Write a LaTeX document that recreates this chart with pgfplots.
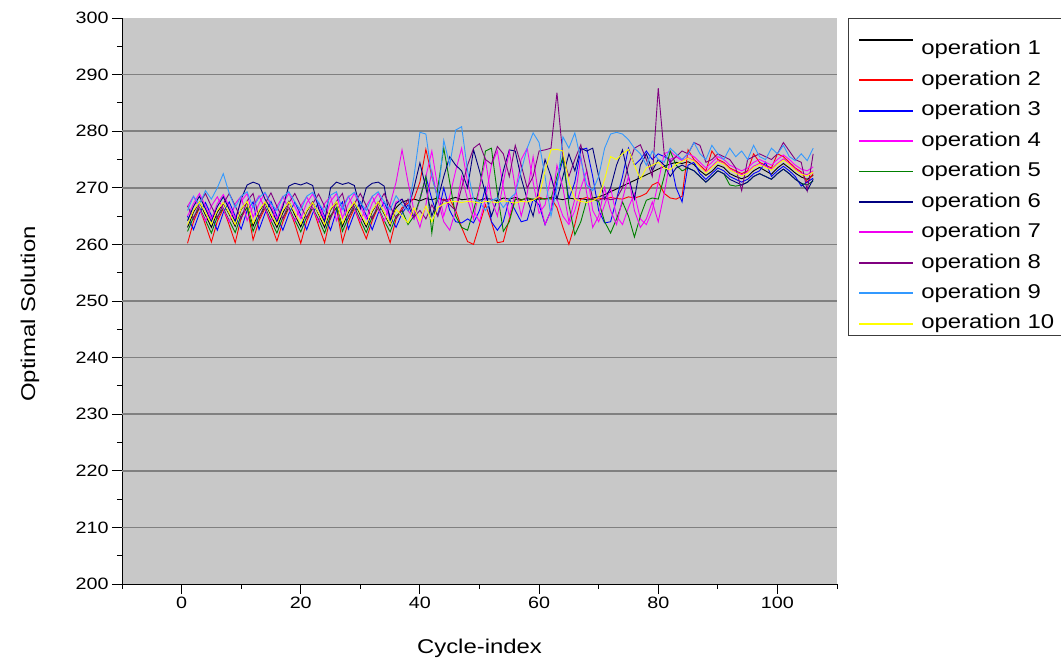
\documentclass[border=0pt]{standalone}
\usepackage{fontspec}
\setmainfont[FakeStretch=1.2]{Liberation Sans}
\usepackage{pgfplots}
\pgfplotsset{compat=1.18}
\definecolor{bg}{RGB}{200,200,200}
\definecolor{gridc}{RGB}{128,128,128}
\definecolor{framec}{RGB}{60,60,60}
\definecolor{c1}{RGB}{0,0,0}
\definecolor{c2}{RGB}{255,0,0}
\definecolor{c3}{RGB}{0,0,255}
\definecolor{c4}{RGB}{255,0,255}
\definecolor{c5}{RGB}{0,128,0}
\definecolor{c6}{RGB}{0,0,128}
\definecolor{c7}{RGB}{240,0,240}
\definecolor{c8}{RGB}{128,0,128}
\definecolor{c9}{RGB}{51,153,255}
\definecolor{c10}{RGB}{255,255,0}
\begin{document}
\begin{tikzpicture}
\begin{axis}[
  at={(122bp,79bp)}, anchor=south west,
  width=715bp, height=566bp, scale only axis,
  xmin=-10, xmax=110, ymin=200, ymax=300,
  axis x line*=bottom, axis y line*=left,
  axis line style={line width=0.9bp, black},
  axis background/.style={fill=bg},
  xtick={0,20,...,100}, minor xtick={-10,10,30,50,70,90,110},
  ytick={200,210,...,300}, minor ytick={205,215,...,295},
  tick align=outside, major tick length=10bp, minor tick length=5bp,
  tick style={black, line width=0.9bp},
  extra y ticks={210,220,...,290}, extra y tick labels={},
  extra y tick style={grid=major, major tick length=0pt},
  grid style={line width=1.5bp, gridc},
  ticklabel style={font=\fontsize{16.5}{20}\selectfont},
  /pgf/number format/assume math mode=true,
  xlabel={Cycle-index}, ylabel={Optimal Solution},
  every axis x label/.style={at={(axis description cs:0.5,0)}, anchor=center, yshift=-64bp, font=\fontsize{20}{24}\selectfont},
  every axis y label/.style={at={(axis description cs:0,0.477)}, anchor=center, rotate=90, yshift=92bp, font=\fontsize{20}{24}\selectfont},
  legend cell align=left,
  legend image code/.code={\draw[#1, line width=1.8bp] (0bp,0bp) -- (54bp,0bp);},
  legend style={at={(1,1)}, anchor=north west, xshift=11bp,
    draw=framec, line width=0.9bp, fill=white,
    font=\fontsize{20}{24}\selectfont,
    inner xsep=10bp, inner ysep=3bp, row sep=12bp, column sep=7bp,
    nodes={inner sep=0pt, text depth=4bp}},
  every axis plot/.append style={line width=0.9bp},
]
\addplot[color=c1] coordinates {(1,263) (2,265.7) (3,267.5) (4,265.2) (5,263) (6,265.7) (7,267.3) (8,265.3) (9,263.2) (10,266.2)
(11,267.5) (12,263.2) (13,265.8) (14,267.4) (15,265.1) (16,263) (17,265.6) (18,267.6) (19,265.2) (20,263.1)
(21,265.8) (22,267.5) (23,265.3) (24,263) (25,266.1) (26,267.5) (27,263.2) (28,265.7) (29,267.4) (30,265.2)
(31,263.1) (32,265.8) (33,267.5) (34,265.4) (35,263.3) (36,266.5) (37,267.5) (38,267.8) (39,268) (40,267.7)
(41,268.1) (42,267.9) (43,268.2) (44,267.8) (45,268) (46,268.3) (47,267.9) (48,268) (49,268.2) (50,267.8)
(51,268.1) (52,268) (53,267.7) (54,268.2) (55,268) (56,268.3) (57,267.9) (58,268.1) (59,267.8) (60,268.2)
(61,268) (62,268.3) (63,268.1) (64,267.9) (65,268.2) (66,268) (67,268.1) (68,267.9) (69,268.2) (70,268.4)
(71,268.8) (72,269.3) (73,269.8) (74,270.3) (75,270.8) (76,271.3) (77,271.8) (78,272.3) (79,272.8) (80,273.3)
(81,273.8) (82,274.2) (83,274.5) (84,274.3) (85,274.6) (86,274.1) (87,273) (88,272.2) (89,272.9) (90,274)
(91,273.6) (92,272.5) (93,272) (94,271.6) (95,272) (96,273) (97,273.6) (98,273) (99,272.4) (100,273.5)
(101,274.3) (102,273.5) (103,272.6) (104,271.9) (105,271.5) (106,272.2)};
\addlegendentry{\rule{0pt}{33.5bp}operation 1}
\addplot[color=c2] coordinates {(1,260.2) (2,264) (3,266.5) (4,263.5) (5,260.4) (6,264.1) (7,266.3) (8,263.4) (9,260.3) (10,264.7)
(11,266.6) (12,260.8) (13,264.2) (14,266.4) (15,263.5) (16,260.6) (17,264) (18,266.5) (19,263.6) (20,260.2)
(21,264.1) (22,266.5) (23,263.3) (24,260.3) (25,264.8) (26,266.5) (27,260.4) (28,264) (29,266.4) (30,263.5)
(31,261) (32,264.2) (33,266.6) (34,263.5) (35,260.3) (36,264.5) (37,266.5) (38,267.3) (39,268) (40,271)
(41,276.8) (42,272) (43,268.2) (44,267.8) (45,268) (46,266) (47,263) (48,260.5) (49,260) (50,263.5)
(51,267) (52,264) (53,260.3) (54,260.5) (55,264.5) (56,268) (57,267.8) (58,268.2) (59,267.9) (60,268.3)
(61,268) (62,268.2) (63,266.5) (64,263) (65,260) (66,263.5) (67,268) (68,268.3) (69,267.9) (70,268.2)
(71,268) (72,268.3) (73,268.1) (74,268) (75,268.4) (76,268.2) (77,268.5) (78,269) (79,270.5) (80,271)
(81,269) (82,268.2) (83,268) (84,268.5) (85,276.7) (86,275) (87,274) (88,273) (89,276.5) (90,275)
(91,274.5) (92,273.5) (93,273) (94,272.5) (95,273) (96,276) (97,274.5) (98,274) (99,273.5) (100,276)
(101,275.5) (102,274.5) (103,273.5) (104,272.8) (105,271) (106,272.5)};
\addlegendentry{operation 2}
\addplot[color=c3] coordinates {(1,265) (2,262.6) (3,265.5) (4,267.4) (5,265.1) (6,262.5) (7,265.6) (8,267.5) (9,265) (10,262.7)
(11,266) (12,267.5) (13,262.6) (14,265.5) (15,267.6) (16,265) (17,262.5) (18,265.4) (19,267.5) (20,265.2)
(21,262.6) (22,265.5) (23,267.4) (24,265) (25,262.5) (26,266) (27,267.5) (28,262.7) (29,265.5) (30,267.5)
(31,265.1) (32,262.6) (33,265.5) (34,267.5) (35,265) (36,263) (37,265.5) (38,267) (39,264.5) (40,268)
(41,272) (42,268) (43,265) (44,270) (45,266) (46,264) (47,263.8) (48,264.5) (49,263.8) (50,266)
(51,270) (52,264) (53,262.5) (54,264) (55,268) (56,266) (57,264) (58,264.3) (59,268) (60,267)
(61,263.5) (62,266) (63,271) (64,275) (65,268) (66,271) (67,276.7) (68,277) (69,272) (70,266)
(71,263.8) (72,264) (73,268) (74,272) (75,277) (76,274) (77,275) (78,276.5) (79,275) (80,276)
(81,275.5) (82,275) (83,270) (84,267.5) (85,274) (86,274.5) (87,272.5) (88,271.5) (89,272.5) (90,273.5)
(91,273) (92,272) (93,271.5) (94,271) (95,271.5) (96,272.5) (97,273) (98,274.5) (99,272) (100,273)
(101,273.8) (102,273) (103,272) (104,270.3) (105,271) (106,271.7)};
\addlegendentry{operation 3}
\addplot[color=c4] coordinates {(1,265) (2,267.2) (3,269) (4,266.8) (5,264.5) (6,267.2) (7,268.8) (8,266.7) (9,264.6) (10,267.6)
(11,269) (12,264.8) (13,267.2) (14,269.1) (15,266.8) (16,264.5) (17,267.2) (18,269) (19,266.7) (20,264.6)
(21,267.3) (22,268.9) (23,266.8) (24,264.5) (25,267.6) (26,269) (27,264.7) (28,267.2) (29,269) (30,266.8)
(31,264.5) (32,267.3) (33,269) (34,266.7) (35,264.6) (36,267.5) (37,268) (38,266) (39,264.5) (40,268)
(41,272) (42,276.5) (43,270) (44,265) (45,268.5) (46,273) (47,277) (48,271) (49,266) (50,264)
(51,268) (52,274) (53,276.5) (54,270) (55,265) (56,269) (57,275) (58,277) (59,271) (60,265.5)
(61,267) (62,272) (63,268) (64,265) (65,263.5) (66,266) (67,270) (68,273) (69,266) (70,264)
(71,267) (72,270) (73,265) (74,263.5) (75,266.5) (76,269) (77,264.5) (78,263.5) (79,266) (80,271)
(81,276) (82,276.5) (83,275.5) (84,275) (85,276) (86,275.5) (87,274.5) (88,273.5) (89,274.5) (90,275.5)
(91,275) (92,274) (93,273.5) (94,273) (95,273.5) (96,274.5) (97,275) (98,274.5) (99,274) (100,275)
(101,275.8) (102,275) (103,274) (104,273.3) (105,273) (106,273.7)};
\addlegendentry{operation 4}
\addplot[color=c5] coordinates {(1,262.3) (2,264.8) (3,266.5) (4,264.3) (5,262) (6,264.9) (7,266.4) (8,264.2) (9,262.1) (10,265.2)
(11,266.5) (12,262.3) (13,264.9) (14,266.6) (15,264.2) (16,262) (17,264.8) (18,266.5) (19,264.3) (20,262.2)
(21,264.9) (22,266.4) (23,264.4) (24,262) (25,265.1) (26,266.5) (27,262.3) (28,264.8) (29,266.6) (30,264.3)
(31,262.1) (32,264.9) (33,266.5) (34,264.2) (35,262.2) (36,265) (37,266) (38,263.5) (39,265) (40,268)
(41,272) (42,262) (43,270) (44,277) (45,271) (46,265) (47,263) (48,262.5) (49,266) (50,270)
(51,276.5) (52,277) (53,269) (54,262.3) (55,264) (56,268) (57,267.8) (58,268.2) (59,268) (60,267.9)
(61,268.1) (62,268) (63,272) (64,275.5) (65,267) (66,261.7) (67,264) (68,267.8) (69,268) (70,267.6)
(71,264) (72,262) (73,264.5) (74,267.5) (75,265) (76,261.3) (77,265) (78,267.8) (79,268.2) (80,268)
(81,272) (82,276.5) (83,274) (84,273) (85,273.5) (86,273) (87,272) (88,271) (89,272) (90,273)
(91,272.5) (92,270.5) (93,270.3) (94,270.5) (95,271) (96,272) (97,272.5) (98,272) (99,271.5) (100,272.5)
(101,273.3) (102,272.5) (103,271.5) (104,270.8) (105,270.5) (106,271.2)};
\addlegendentry{operation 5}
\addplot[color=c6] coordinates {(1,264.2) (2,266.7) (3,268.5) (4,266.3) (5,264) (6,266.7) (7,268.4) (8,266.2) (9,264.1) (10,268)
(11,270.5) (12,271) (13,270.6) (14,268) (15,266.3) (16,264) (17,266.7) (18,270.3) (19,270.8) (20,270.5)
(21,270.9) (22,270.4) (23,266.3) (24,264) (25,270) (26,271) (27,270.6) (28,270.9) (29,270.4) (30,266.3)
(31,270) (32,270.8) (33,271) (34,270.3) (35,264.2) (36,267.2) (37,268) (38,266) (39,270) (40,274.4)
(41,270) (42,265) (43,268) (44,272) (45,275.5) (46,274) (47,273) (48,270) (49,276.7) (50,273)
(51,269) (52,265) (53,268) (54,273) (55,276.7) (56,276.5) (57,271.7) (58,268) (59,265) (60,270)
(61,275) (62,272) (63,268) (64,272) (65,276) (66,273) (67,277) (68,276.5) (69,277) (70,272)
(71,268) (72,270) (73,274) (74,276.7) (75,272) (76,268) (77,274) (78,276) (79,273) (80,275)
(81,274) (82,272) (83,273.5) (84,274) (85,273.5) (86,273) (87,272) (88,271) (89,272) (90,273)
(91,272.5) (92,271.5) (93,271) (94,270.5) (95,271) (96,272) (97,272.5) (98,272) (99,271.5) (100,272.5)
(101,273.3) (102,272.5) (103,271.5) (104,270.8) (105,269.5) (106,271.5)};
\addlegendentry{operation 6}
\addplot[color=c7] coordinates {(1,266.7) (2,268.5) (3,266.3) (4,264.1) (5,266.8) (6,268.4) (7,266.2) (8,264) (9,267.2) (10,268.5)
(11,264.2) (12,266.8) (13,268.6) (14,266.3) (15,264) (16,266.7) (17,268.5) (18,266.2) (19,264.1) (20,266.8)
(21,268.4) (22,266.3) (23,264) (24,267.2) (25,268.5) (26,264.2) (27,266.7) (28,268.5) (29,266.3) (30,264)
(31,266.8) (32,268.5) (33,266.2) (34,264.1) (35,267.1) (36,271) (37,276.7) (38,271) (39,266) (40,263)
(41,267) (42,273) (43,268) (44,264) (45,262.5) (46,266) (47,272) (48,268) (49,264.5) (50,270)
(51,275) (52,268) (53,265) (54,271) (55,276.5) (56,270) (57,265) (58,269) (59,275.5) (60,268)
(61,263.5) (62,266) (63,274) (64,270) (65,264) (66,268) (67,275.5) (68,269) (69,263) (70,265)
(71,270) (72,266) (73,263.5) (74,268) (75,272) (76,266) (77,263) (78,264.5) (79,267.5) (80,264)
(81,269) (82,275) (83,275.5) (84,274.8) (85,275.3) (86,274.8) (87,273.8) (88,272.8) (89,273.8) (90,274.8)
(91,274.3) (92,273.3) (93,272.8) (94,272.3) (95,272.8) (96,273.8) (97,274.3) (98,273.8) (99,273.3) (100,274.3)
(101,275.1) (102,274.3) (103,273.3) (104,272.6) (105,272.3) (106,273)};
\addlegendentry{operation 7}
\addplot[color=c8] coordinates {(1,266.8) (2,264.5) (3,267.2) (4,269) (5,266.7) (6,264.6) (7,267.2) (8,269) (9,266.8) (10,264.5)
(11,267.7) (12,269) (13,264.6) (14,267.2) (15,269.1) (16,266.7) (17,264.5) (18,267.3) (19,269) (20,266.8)
(21,264.6) (22,267.2) (23,268.9) (24,266.7) (25,264.5) (26,267.6) (27,269) (28,264.7) (29,267.2) (30,269)
(31,266.8) (32,264.5) (33,267.2) (34,269) (35,266.7) (36,264.6) (37,266) (38,268) (39,264.8) (40,266)
(41,264.5) (42,267) (43,265) (44,268) (45,267) (46,266) (47,270) (48,274) (49,277) (50,277.8)
(51,275) (52,274.2) (53,277.3) (54,276) (55,272) (56,277.5) (57,274) (58,270) (59,272) (60,276.5)
(61,276.7) (62,277) (63,286.8) (64,275.5) (65,272) (66,275) (67,277.6) (68,273) (69,268) (70,267.8)
(71,268.2) (72,267.9) (73,268.1) (74,270) (75,274) (76,277) (77,277.6) (78,275) (79,272) (80,287.6)
(81,276) (82,274.5) (83,275.5) (84,276.5) (85,276) (86,278) (87,277.5) (88,274.5) (89,275) (90,276)
(91,275.5) (92,275) (93,273.5) (94,269.5) (95,275) (96,275.5) (97,276) (98,275.5) (99,275) (100,276)
(101,278) (102,276.5) (103,275) (104,274.5) (105,269.5) (106,276)};
\addlegendentry{operation 8}
\addplot[color=c9] coordinates {(1,266) (2,268.5) (3,267) (4,269.5) (5,268) (6,270) (7,272.5) (8,269) (9,266.5) (10,268.5)
(11,269.3) (12,266.5) (13,268.3) (14,269.2) (15,267.2) (16,266) (17,268.4) (18,269.3) (19,267.5) (20,266)
(21,268.5) (22,269.2) (23,267.3) (24,265.8) (25,268.7) (26,269.3) (27,266.2) (28,268.4) (29,269.2) (30,267.4)
(31,266) (32,268.5) (33,269.3) (34,267.5) (35,266.1) (36,268.6) (37,267) (38,266) (39,272) (40,279.8)
(41,279.5) (42,272) (43,268) (44,278.4) (45,274) (46,280.2) (47,280.8) (48,273) (49,268) (50,267.5)
(51,266) (52,267.8) (53,268.2) (54,266.5) (55,268) (56,269) (57,273) (58,277) (59,279.7) (60,278)
(61,272) (62,265) (63,270) (64,279) (65,277) (66,279.7) (67,275) (68,270.5) (69,269.5) (70,272)
(71,277) (72,279.5) (73,279.8) (74,279.5) (75,278.5) (76,277) (77,276) (78,274) (79,276.5) (80,275)
(81,274.5) (82,277) (83,276) (84,275) (85,276) (86,278) (87,276) (88,275) (89,277.5) (90,276)
(91,275) (92,277) (93,275.5) (94,276.5) (95,275) (96,277.5) (97,275.5) (98,275) (99,277) (100,276)
(101,277.5) (102,275.5) (103,274.8) (104,276) (105,274.8) (106,277)};
\addlegendentry{operation 9}
\addplot[color=c10] coordinates {(1,263.5) (2,266) (3,267.5) (4,265.6) (5,263.6) (6,266) (7,267.4) (8,265.5) (9,263.5) (10,266.3)
(11,267.6) (12,263.7) (13,266) (14,267.5) (15,265.4) (16,263.5) (17,266) (18,267.5) (19,265.6) (20,263.6)
(21,266) (22,267.4) (23,265.5) (24,263.5) (25,266.3) (26,267.5) (27,263.7) (28,266) (29,267.5) (30,265.5)
(31,263.5) (32,266) (33,267.5) (34,265.6) (35,263.6) (36,266.2) (37,265) (38,263.8) (39,266.5) (40,264.2)
(41,266.8) (42,264) (43,266.5) (44,267.2) (45,267.5) (46,267.6) (47,267.4) (48,267.6) (49,267.5) (50,267.3)
(51,267.6) (52,267.5) (53,267.4) (54,267.7) (55,267.5) (56,267.3) (57,267.6) (58,267.5) (59,267.8) (60,268.5)
(61,273) (62,276.7) (63,276.8) (64,276.5) (65,271) (66,268) (67,267.6) (68,267.4) (69,267.7) (70,268.3)
(71,271.5) (72,275.5) (73,275) (74,276) (75,276.8) (76,274) (77,271.5) (78,273.5) (79,274) (80,274.5)
(81,273.5) (82,273.2) (83,274.2) (84,274.7) (85,275.2) (86,274.7) (87,273.7) (88,272.6) (89,273.6) (90,274.6)
(91,274.2) (92,273.2) (93,272.6) (94,272.1) (95,272.6) (96,273.6) (97,274.1) (98,273.6) (99,273.1) (100,274.1)
(101,274.9) (102,274.1) (103,273.1) (104,272.4) (105,272.1) (106,272.8)};
\addlegendentry{operation 10}
\end{axis}
\pgfresetboundingbox
\path (0,0) rectangle (1061bp,663bp);
\end{tikzpicture}
\end{document}
